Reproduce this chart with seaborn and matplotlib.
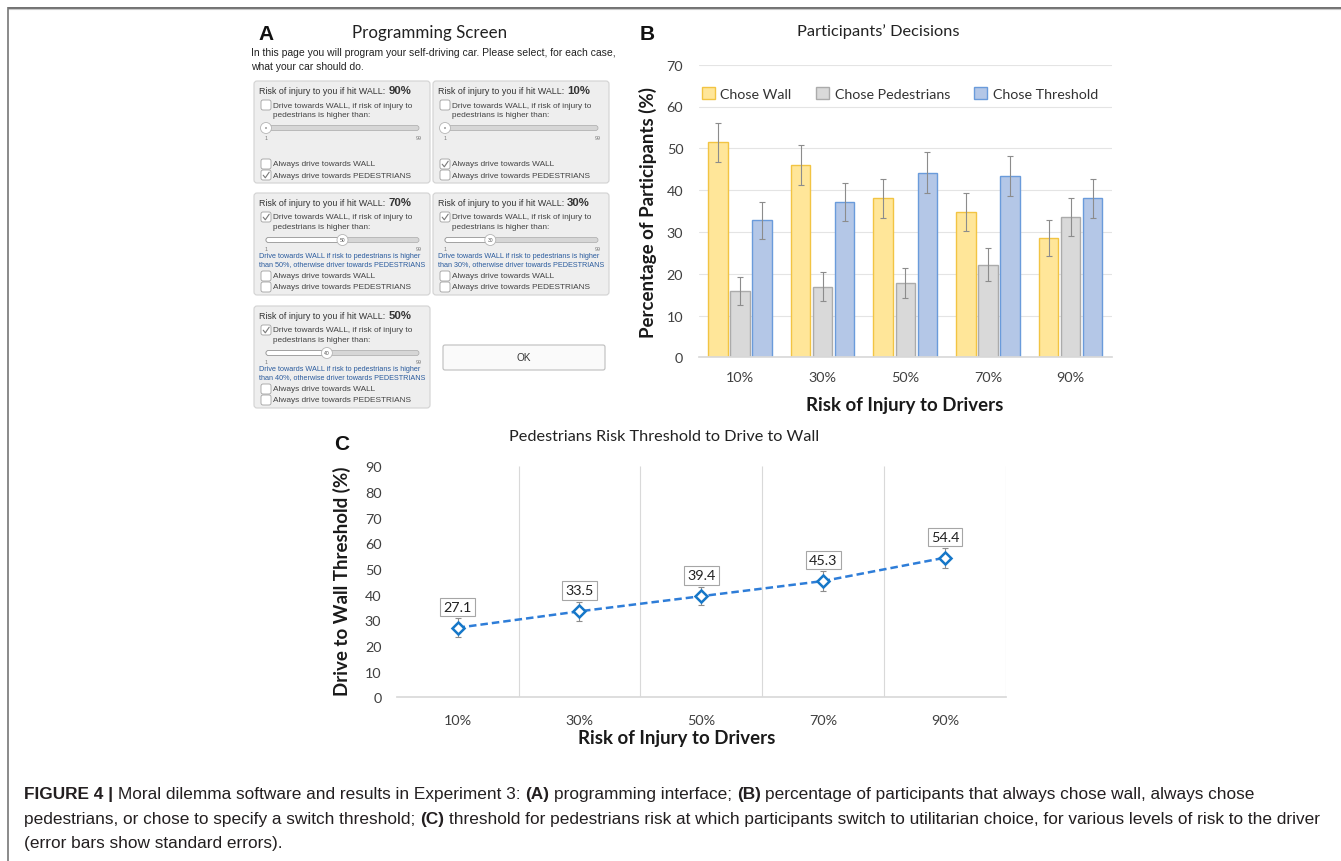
import matplotlib
matplotlib.use('Agg')
import matplotlib.pyplot as plt
import matplotlib.patches as mpatches
import seaborn as sns
import pandas as pd

# ---- data ----
risk_levels = ['10%', '30%', '50%', '70%', '90%']
decisions = ['Chose Wall', 'Chose Pedestrians', 'Chose Threshold']
chose_wall = [51.4, 46.1, 38.0, 34.7, 28.5]
chose_wall_se = [4.7, 4.8, 4.6, 4.6, 4.3]
chose_pedestrians = [15.9, 16.9, 17.8, 22.2, 33.6]
chose_pedestrians_se = [3.4, 3.5, 3.6, 3.9, 4.5]
chose_threshold = [32.8, 37.2, 44.2, 43.4, 38.0]
chose_threshold_se = [4.4, 4.6, 4.8, 4.8, 4.6]

wall_threshold = [27.1, 33.5, 39.4, 45.3, 54.4]
wall_threshold_se = [3.7, 3.6, 3.6, 3.9, 3.9]

# programming screen (panel A)
screen_risk = ['90%', '10%', '70%', '30%', '50%']
screen_slider = [None, None, 50, 30, 40]
screen_always = ['PEDESTRIANS', 'WALL', None, None, None]

W, H = 1341, 862
bar_faces = ['#FFE699', '#D9D9D9', '#B4C7E7']
bar_edges = ['#F2C443', '#ABABAB', '#6A9BDB']

sns.set_theme(style='white')
plt.rcParams['font.family'] = ['Lato', 'DejaVu Sans']
UI_FONT = ['Liberation Sans', 'DejaVu Sans']

fig = plt.figure(figsize=(W / 100, H / 100), dpi=100)
renderer = fig.canvas.get_renderer()

# overlay axes in pixel coordinates, y grows downward
ui = fig.add_axes([0, 0, 1, 1], zorder=0)
ui.set_xlim(0, W)
ui.set_ylim(H, 0)
ui.axis('off')


def px_rect(x0, y0, x1, y1):
    return [x0 / W, 1 - y1 / H, (x1 - x0) / W, (y1 - y0) / H]


def run_text(x, y, pieces, size, color='#231f20'):
    # draw regular/bold pieces one after another on the same baseline
    space = 0.278 * size * 100 / 72
    for s, bold in pieces:
        if s.startswith(' '):
            x += space
        t = ui.text(x, y, s.strip(), fontsize=size, family=UI_FONT, color=color,
                    fontweight='bold' if bold else 'normal', va='baseline', ha='left')
        x = t.get_window_extent(renderer).x1
        if s.endswith(' '):
            x += space
    return x


def check_row(x, y, lines, checked):
    ui.add_patch(mpatches.FancyBboxPatch((x, y - 5), 10, 10, boxstyle='round,pad=0,rounding_size=2',
                                         fc='white', ec='#A0A0A0', lw=0.6))
    if checked:
        ui.plot([x + 2.2, x + 4.3, x + 8.2], [y + 0.2, y + 2.8, y - 2.8], color='#7A7A7A', lw=0.8)
    for i, s in enumerate(lines):
        ui.text(x + 12, y + i * 9.5, s, fontsize=5.95, color='#444444', family=UI_FONT, va='center')


# figure frame
ui.plot([8, W], [8.5, 8.5], color='#707070', lw=1.4, solid_capstyle='butt')
ui.plot([8, W], [10.2, 10.2], color='#C8C8C8', lw=0.8, solid_capstyle='butt')
ui.plot([8.5, 8.5], [8, H], color='#777777', lw=1.2, solid_capstyle='butt')

# ---- panel A: programming screen ----
ui.text(258, 35, 'A', fontsize=15, fontweight='bold', family=UI_FONT, va='center', color='#111111')
ui.text(430, 33, 'Programming Screen', fontsize=12.2, ha='center', va='center', color='#222222')
ui.text(251, 53, 'In this page you will program your self-driving car. Please select, for each case,',
        fontsize=7.5, family=UI_FONT, va='center', color='#222222')
ui.text(251, 67, 'what your car should do.', fontsize=7.5, family=UI_FONT, va='center', color='#222222')

box_pos = [(254, 82), (433, 82), (254, 194), (433, 194), (254, 307)]
for (bx, by), risk, thr, always in zip(box_pos, screen_risk, screen_slider, screen_always):
    ui.add_patch(mpatches.FancyBboxPatch((bx, by), 176, 102, boxstyle='round,pad=0,rounding_size=3',
                                         fc='#EEEEEE', ec='#D2D2D2', lw=0.8))
    t = ui.text(bx + 5, by + 12, 'Risk of injury to you if hit WALL:', fontsize=6.4,
                family=UI_FONT, color='#333333', va='baseline')
    ui.text(t.get_window_extent(renderer).x1 + 3, by + 12.5, risk, fontsize=8.2, fontweight='bold',
            family=UI_FONT, color='#333333', va='baseline')
    check_row(bx + 7, by + 24, ['Drive towards WALL, if risk of injury to', 'pedestrians is higher than:'],
              thr is not None)

    sx0, sx1, sy = bx + 12, bx + 165, by + 47
    ui.add_patch(mpatches.FancyBboxPatch((sx0, sy - 2.5), sx1 - sx0, 5, boxstyle='round,pad=0,rounding_size=2.5',
                                         fc='#D6D6D6', ec='#AAAAAA', lw=0.5))
    val = thr if thr is not None else 1
    kx = sx0 + (val - 1) / 98 * (sx1 - sx0)
    if thr is not None:
        ui.add_patch(mpatches.FancyBboxPatch((sx0, sy - 2.5), kx - sx0, 5,
                                             boxstyle='round,pad=0,rounding_size=2.5',
                                             fc='white', ec='#9A9A9A', lw=0.6))
    ui.add_patch(mpatches.Circle((kx, sy), 5.5, fc='white', ec='#B5B5B5', lw=0.6, zorder=3))
    if thr is not None:
        ui.text(kx, sy, str(thr), fontsize=3.6, family=UI_FONT, ha='center', va='center', color='#555555', zorder=4)
        ui.text(bx + 5, by + 63, 'Drive towards WALL if risk to pedestrians is higher', fontsize=5.2,
                family=UI_FONT, color='#2B5C9E', va='center')
        ui.text(bx + 5, by + 71, f'than {thr}%, otherwise driver towards PEDESTRIANS', fontsize=5.2,
                family=UI_FONT, color='#2B5C9E', va='center')
    else:
        ui.add_patch(mpatches.Circle((kx, sy), 0.9, fc='#888888', ec='none', zorder=4))
    ui.text(sx0, by + 56, '1', fontsize=3.8, family=UI_FONT, ha='center', va='center', color='#777777')
    ui.text(sx1, by + 56, '99', fontsize=3.8, family=UI_FONT, ha='center', va='center', color='#777777')

    check_row(bx + 7, by + 83, ['Always drive towards WALL'], always == 'WALL')
    check_row(bx + 7, by + 94, ['Always drive towards PEDESTRIANS'], always == 'PEDESTRIANS')

ui.add_patch(mpatches.FancyBboxPatch((443, 346), 162, 25, boxstyle='round,pad=0,rounding_size=2',
                                     fc='#FAFAFA', ec='#BDBDBD', lw=0.8))
ui.text(524, 358.5, 'OK', fontsize=7.2, family=UI_FONT, ha='center', va='center', color='#333333')

# ---- panel B: participants' decisions ----
ui.text(640, 34, 'B', fontsize=15, fontweight='bold', family=UI_FONT, va='center', color='#111111')
ui.text(878, 32, 'Participants’ Decisions', fontsize=11.8, ha='center', va='center', color='#222222')

axB = fig.add_axes(px_rect(698.6, 65.7, 1112, 358.3), zorder=2)
axB.set_facecolor('none')
dfB = pd.DataFrame({
    'risk': risk_levels * 3,
    'decision': [d for d in decisions for _ in risk_levels],
    'pct': chose_wall + chose_pedestrians + chose_threshold,
})
sns.barplot(data=dfB, x='risk', y='pct', hue='decision', order=risk_levels, hue_order=decisions,
            palette=bar_faces, saturation=1, errorbar=None, width=0.8, gap=0.115,
            linewidth=1.0, legend=False, ax=axB)

for cont, ec, se in zip(axB.containers, bar_edges,
                        [chose_wall_se, chose_pedestrians_se, chose_threshold_se]):
    for bar in cont:
        bar.set_edgecolor(ec)
    xs = [b.get_x() + b.get_width() / 2 for b in cont]
    ys = [b.get_height() for b in cont]
    axB.errorbar(xs, ys, yerr=se, fmt='none', ecolor='#8C8C8C', elinewidth=0.8, capsize=2.5, capthick=0.8)

handles = [mpatches.Patch(fc=f, ec=e, lw=1) for f, e in zip(bar_faces, bar_edges)]
axB.legend(handles, decisions, loc='center', bbox_to_anchor=(0.487, 0.903), ncol=3, frameon=False,
           fontsize=10.3, handlelength=0.9, handleheight=0.9, handletextpad=0.4, columnspacing=1.7,
           labelcolor='#333333')

axB.set_xlim(-0.5, 4.5)
axB.set_ylim(0, 70)
axB.set_yticks(range(0, 71, 10))
axB.grid(axis='y', color='#E4E4E4', lw=0.8)
axB.set_axisbelow(True)
sns.despine(ax=axB, left=True)
axB.spines['bottom'].set_color('#D9D9D9')
axB.tick_params(axis='both', length=0, labelsize=10.4, colors='#404040')
axB.tick_params(axis='y', pad=11)
axB.tick_params(axis='x', pad=10)
axB.set_xlabel('Risk of Injury to Drivers', fontsize=13.4, fontweight='bold', color='#1a1a1a', va='center')
axB.xaxis.set_label_coords(0.499, -0.16)
axB.set_ylabel('Percentage of Participants (%)', fontsize=13.5, fontweight='bold', color='#1a1a1a', va='center')
axB.yaxis.set_label_coords(-0.1224, 0.5)

# ---- panel C: threshold line ----
ui.text(334, 445, 'C', fontsize=15, fontweight='bold', family=UI_FONT, va='center', color='#111111')
ui.text(664, 437, 'Pedestrians Risk Threshold to Drive to Wall', fontsize=11.7, ha='center', va='center',
        color='#222222')

axC = fig.add_axes(px_rect(396.7, 467.3, 1006, 698.3), zorder=2)
axC.set_facecolor('none')
dfC = pd.DataFrame({'risk': risk_levels, 'threshold': wall_threshold})
sns.pointplot(data=dfC, x='risk', y='threshold', order=risk_levels, errorbar=None, color='#2E7DD8', ax=axC)
line = axC.lines[0]
line.set_linestyle((0, (3, 1.6)))
line.set_linewidth(1.8)
line.set_marker('D')
line.set_markersize(6)
line.set_markerfacecolor('white')
line.set_markeredgecolor('#1677C8')
line.set_markeredgewidth(1.8)
line.set_zorder(3)
xs, ys = line.get_xdata(), line.get_ydata()
axC.errorbar(xs, ys, yerr=wall_threshold_se, fmt='none', ecolor='#8C8C8C', elinewidth=0.8,
             capsize=2.5, capthick=0.8, zorder=2)
for x, y in zip(xs, ys):
    axC.annotate(f'{y:.1f}', (x, y), xytext=(0, 15), textcoords='offset points', ha='center', va='center',
                 fontsize=10.4, color='#222222', zorder=4,
                 bbox=dict(boxstyle='square,pad=0.22', fc='white', ec='#A6A6A6', lw=0.8))

axC.vlines([i + 0.5 for i in range(len(risk_levels))], 0, 90, colors='#D9D9D9', lw=0.8, zorder=0)
axC.set_xlim(-0.5, 4.5)
axC.set_ylim(0, 90)
axC.set_yticks(range(0, 91, 10))
sns.despine(ax=axC, left=True)
axC.spines['bottom'].set_color('#D9D9D9')
axC.tick_params(axis='both', length=0, labelsize=10.4, colors='#404040')
axC.tick_params(axis='y', pad=11)
axC.tick_params(axis='x', pad=12)
axC.set_xlabel('Risk of Injury to Drivers', fontsize=13.4, fontweight='bold', color='#1a1a1a', va='center')
axC.xaxis.set_label_coords(0.46, -0.172)
axC.set_ylabel('Drive to Wall Threshold (%)', fontsize=13.5, fontweight='bold', color='#1a1a1a', va='center')
axC.yaxis.set_label_coords(-0.0903, 0.505)

# ---- caption ----
cap = 12.4
run_text(24, 799, [('FIGURE 4 | ', True), ('Moral dilemma software and results in Experiment 3: ', False),
                   ('(A)', True), (' programming interface; ', False), ('(B)', True),
                   (' percentage of participants that always chose wall, always chose', False)], cap)
run_text(24, 824, [('pedestrians, or chose to specify a switch threshold; ', False), ('(C)', True),
                   (' threshold for pedestrians risk at which participants switch to utilitarian choice, '
                    'for various levels of risk to the driver', False)], cap)
run_text(24, 848, [('(error bars show standard errors).', False)], cap)

fig.savefig('out.png', dpi=100)
